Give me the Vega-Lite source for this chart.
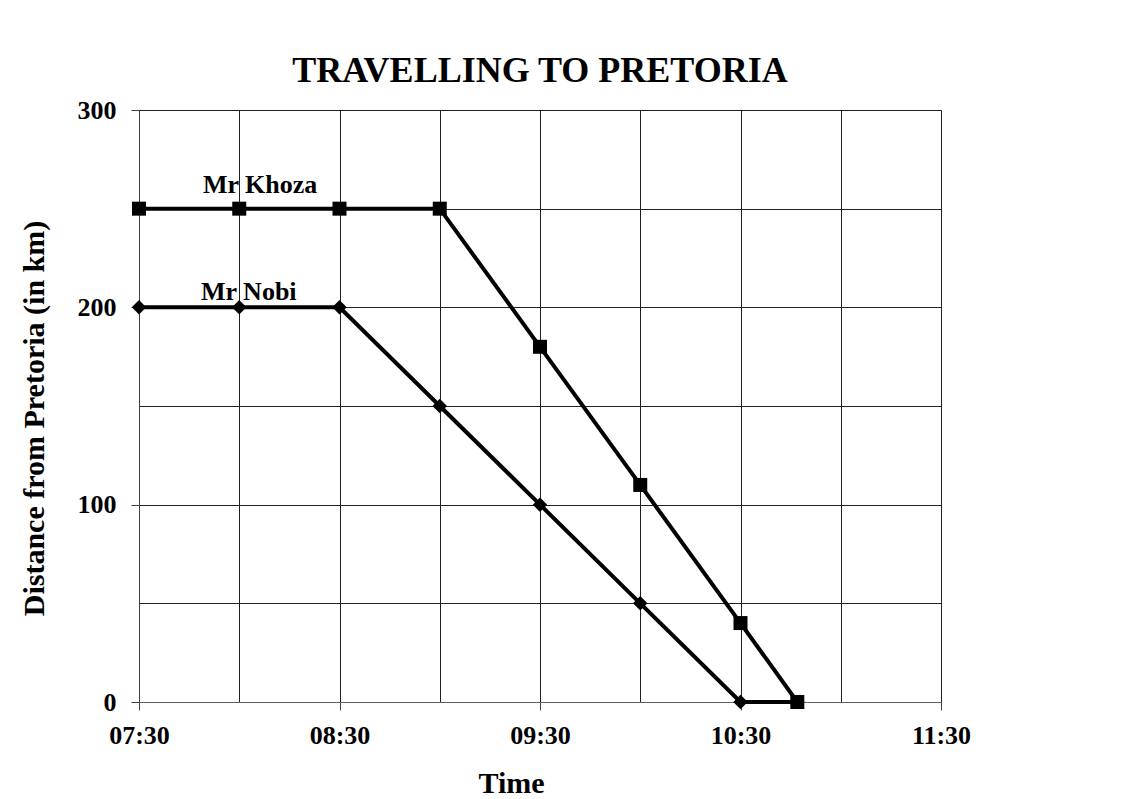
{
  "$schema": "https://vega.github.io/schema/vega-lite/v6.json",
  "width": 802,
  "height": 592,
  "autosize": {"type": "none"},
  "padding": {"left": 139, "top": 110, "right": 185, "bottom": 97},
  "background": "white",
  "config": {
    "font": "Liberation Serif",
    "view": {"stroke": "#808080", "strokeWidth": 1}
  },
  "title": {
    "text": "TRAVELLING TO PRETORIA",
    "font": "Liberation Serif",
    "fontSize": 36,
    "fontWeight": "bold",
    "color": "black",
    "anchor": "middle",
    "baseline": "alphabetic",
    "offset": -21
  },
  "datasets": {
    "trips": [
      {"driver": "Mr Khoza", "time": "2000-01-01T07:30:00Z", "km": 250},
      {"driver": "Mr Khoza", "time": "2000-01-01T08:00:00Z", "km": 250},
      {"driver": "Mr Khoza", "time": "2000-01-01T08:30:00Z", "km": 250},
      {"driver": "Mr Khoza", "time": "2000-01-01T09:00:00Z", "km": 250},
      {"driver": "Mr Khoza", "time": "2000-01-01T09:30:00Z", "km": 180},
      {"driver": "Mr Khoza", "time": "2000-01-01T10:00:00Z", "km": 110},
      {"driver": "Mr Khoza", "time": "2000-01-01T10:30:00Z", "km": 40},
      {"driver": "Mr Khoza", "time": "2000-01-01T10:47:00Z", "km": 0},
      {"driver": "Mr Nobi", "time": "2000-01-01T07:30:00Z", "km": 200},
      {"driver": "Mr Nobi", "time": "2000-01-01T08:00:00Z", "km": 200},
      {"driver": "Mr Nobi", "time": "2000-01-01T08:30:00Z", "km": 200},
      {"driver": "Mr Nobi", "time": "2000-01-01T09:00:00Z", "km": 150},
      {"driver": "Mr Nobi", "time": "2000-01-01T09:30:00Z", "km": 100},
      {"driver": "Mr Nobi", "time": "2000-01-01T10:00:00Z", "km": 50},
      {"driver": "Mr Nobi", "time": "2000-01-01T10:30:00Z", "km": 0},
      {"driver": "Mr Nobi", "time": "2000-01-01T10:47:00Z", "km": 0}
    ]
  },
  "data": {"name": "trips"},
  "encoding": {
    "x": {
      "field": "time",
      "type": "temporal",
      "scale": {
        "type": "utc",
        "domain": [
          {"year": 2000, "month": 1, "date": 1, "hours": 7, "minutes": 30, "utc": true},
          {"year": 2000, "month": 1, "date": 1, "hours": 11, "minutes": 30, "utc": true}
        ],
        "nice": false
      },
      "axis": {
        "title": "Time",
        "titleFont": "Liberation Serif",
        "titleFontSize": 30,
        "titleFontWeight": "bold",
        "titleColor": "black",
        "titleX": 372,
        "titleY": 90,
        "titleBaseline": "alphabetic",
        "titleAlign": "center",
        "values": [
          {"year": 2000, "month": 1, "date": 1, "hours": 7, "minutes": 30, "utc": true},
          {"year": 2000, "month": 1, "date": 1, "hours": 8, "minutes": 0, "utc": true},
          {"year": 2000, "month": 1, "date": 1, "hours": 8, "minutes": 30, "utc": true},
          {"year": 2000, "month": 1, "date": 1, "hours": 9, "minutes": 0, "utc": true},
          {"year": 2000, "month": 1, "date": 1, "hours": 9, "minutes": 30, "utc": true},
          {"year": 2000, "month": 1, "date": 1, "hours": 10, "minutes": 0, "utc": true},
          {"year": 2000, "month": 1, "date": 1, "hours": 10, "minutes": 30, "utc": true},
          {"year": 2000, "month": 1, "date": 1, "hours": 11, "minutes": 0, "utc": true},
          {"year": 2000, "month": 1, "date": 1, "hours": 11, "minutes": 30, "utc": true}
        ],
        "labelExpr": "utcminutes(datum.value) == 30 ? utcFormat(datum.value, '%H:%M') : ''",
        "labelFont": "Liberation Serif",
        "labelFontSize": 26,
        "labelFontWeight": "bold",
        "labelColor": "black",
        "labelBaseline": "alphabetic",
        "labelPadding": 33,
        "labelFlush": false,
        "labelOverlap": false,
        "tickSize": 8,
        "tickColor": "#404040",
        "tickOpacity": {"condition": {"test": "utcminutes(datum.value) == 30", "value": 1}, "value": 0},
        "domainColor": "#606060",
        "grid": true,
        "gridColor": "#202020",
        "gridWidth": 1
      }
    },
    "y": {
      "field": "km",
      "type": "quantitative",
      "scale": {"domain": [0, 300], "nice": false, "zero": true},
      "axis": {
        "title": "Distance from Pretoria (in km)",
        "titleFont": "Liberation Serif",
        "titleFontSize": 30,
        "titleFontWeight": "bold",
        "titleColor": "black",
        "titleAngle": -90,
        "titleX": -96,
        "titleY": 308,
        "titleBaseline": "alphabetic",
        "titleAlign": "center",
        "values": [0, 50, 100, 150, 200, 250, 300],
        "labelExpr": "datum.value % 100 == 0 ? datum.label : ''",
        "labelFont": "Liberation Serif",
        "labelFontSize": 26,
        "labelFontWeight": "bold",
        "labelColor": "black",
        "labelPadding": 15,
        "labelFlush": false,
        "labelOverlap": false,
        "tickSize": 8,
        "tickColor": "#404040",
        "tickOpacity": {"condition": {"test": "datum.value % 100 == 0", "value": 1}, "value": 0},
        "domainColor": "#404040",
        "grid": true,
        "gridColor": "#202020",
        "gridWidth": 1
      }
    }
  },
  "layer": [
    {
      "mark": {"type": "line", "color": "black", "strokeWidth": 4, "clip": false},
      "encoding": {"detail": {"field": "driver", "type": "nominal"}}
    },
    {
      "mark": {"type": "point", "filled": true, "color": "black", "opacity": 1, "clip": false},
      "encoding": {
        "shape": {"field": "driver", "type": "nominal", "scale": {"domain": ["Mr Khoza", "Mr Nobi"], "range": ["square", "diamond"]}, "legend": null},
        "size": {"field": "driver", "type": "nominal", "scale": {"domain": ["Mr Khoza", "Mr Nobi"], "range": [196, 210]}, "legend": null}
      }
    },
    {
      "transform": [{"filter": "datum.driver == 'Mr Khoza' && utcminutes(datum.time) == 30 && utchours(datum.time) == 7"}],
      "mark": {"type": "text", "font": "Liberation Serif", "fontSize": 26, "fontWeight": "bold", "color": "black", "align": "left", "baseline": "alphabetic", "dx": 64, "dy": -16},
      "encoding": {"text": {"field": "driver"}}
    },
    {
      "transform": [{"filter": "datum.driver == 'Mr Nobi' && utcminutes(datum.time) == 30 && utchours(datum.time) == 7"}],
      "mark": {"type": "text", "font": "Liberation Serif", "fontSize": 26, "fontWeight": "bold", "color": "black", "align": "left", "baseline": "alphabetic", "dx": 62, "dy": -7},
      "encoding": {"text": {"field": "driver"}}
    }
  ]
}
